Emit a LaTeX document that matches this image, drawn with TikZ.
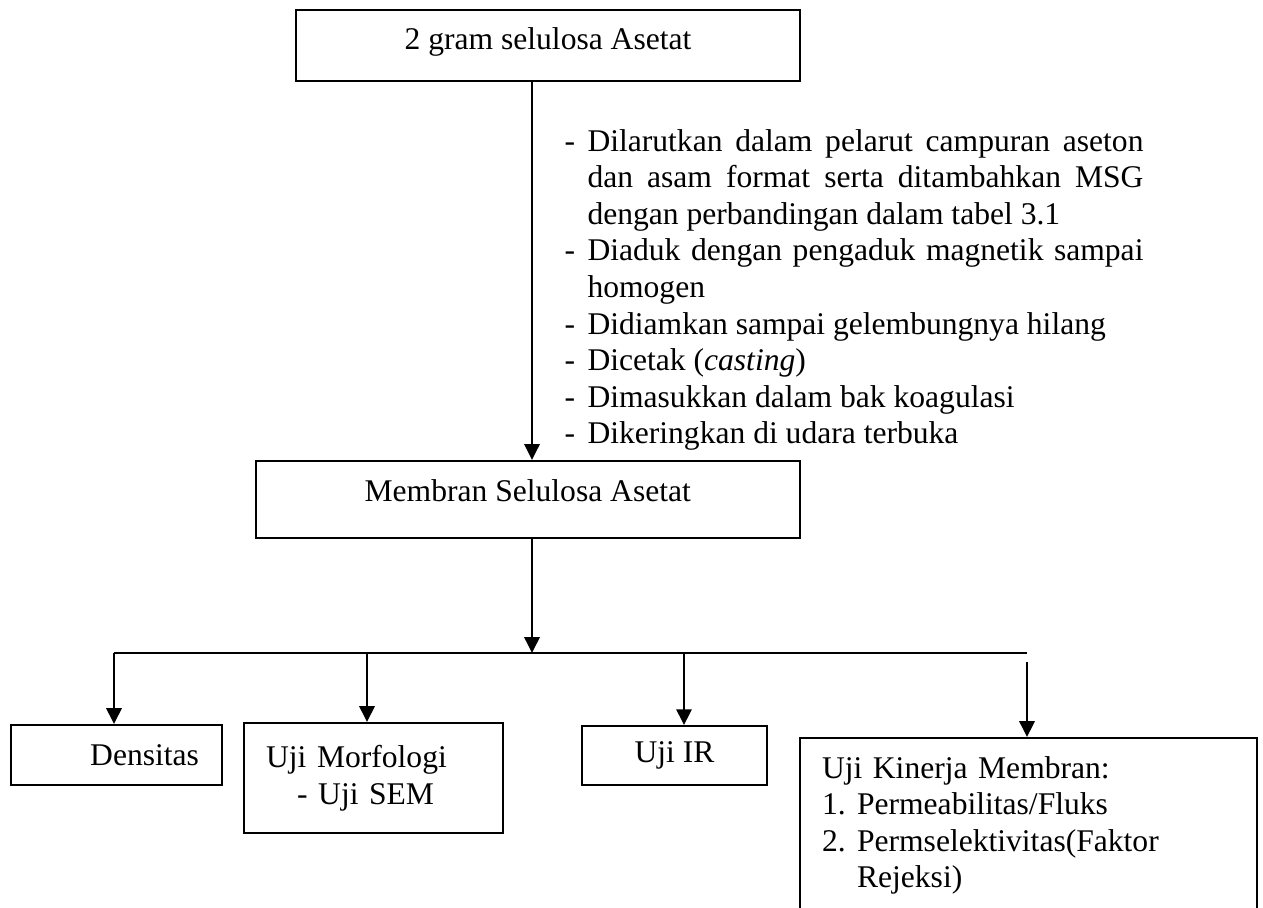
\documentclass[tikz,border=0pt]{standalone}
\usepackage{fontspec}
\setmainfont{Liberation Serif}
\usetikzlibrary{arrows.meta}

\newcommand{\butir}{\par\hangindent=8.74pt\hangafter=1\noindent\makebox[8.74pt][l]{-}}

\begin{document}
\begin{tikzpicture}[x=0.38pt, y=-0.38pt,
    font=\fontsize{12}{13.9}\selectfont,
    kotak/.style={draw, line width=0.75pt, inner xsep=7pt, inner ysep=0pt},
    panah/.style={-{Triangle[width=5.7pt,length=6pt]}, line width=1.1pt},
    garis/.style={line width=0.9pt}]

    \useasboundingbox (0,0) rectangle (1263,907);
    \clip (0,0) rectangle (1263,907);

    % bahan awal
    \node[kotak, minimum width=191.5pt, minimum height=27pt, text height=8.2pt, text depth=4.8pt] (awal) at (548,45.5) {2 gram selulosa Asetat};

    % langkah pembuatan membran
    \node[anchor=north west, inner sep=0pt, text width=220pt, align=justify] (langkah) at (564,114) {%
        \hyphenpenalty=10000 \exhyphenpenalty=10000 \tolerance=9999
        \butir Dilarutkan dalam pelarut campuran aseton dan asam format serta ditambahkan MSG dengan perbandingan dalam tabel 3.1
        \butir Diaduk dengan pengaduk magnetik sampai homogen
        \butir Didiamkan sampai gelembungnya hilang
        \butir Dicetak (\textit{casting})
        \butir Dimasukkan dalam bak koagulasi
        \butir Dikeringkan di udara terbuka\par};

    % membran hasil
    \node[kotak, minimum width=206.9pt, minimum height=29.3pt, text height=8.2pt, text depth=7pt] (membran) at (527.75,499.5) {Membran Selulosa Asetat};

    % titik percabangan
    \coordinate (tengah) at (532,0);
    \coordinate (t1) at (114,653);
    \coordinate (t2) at (367,653);
    \coordinate (t3) at (684,653);
    \coordinate (ujung) at (1027,653);
    \coordinate (t4) at (1027,662);

    % uji
    \node[kotak, inner xsep=8.74pt, minimum width=80.2pt, minimum height=22.8pt, text width=62.7pt, align=right] (densitas) at (116.5,755) {Densitas};
    \node[kotak, inner xsep=8.4pt, minimum width=98.4pt, minimum height=41.8pt, text width=81.6pt, align=left] (morfologi) at (373.5,778) {Uji Morfologi\\ \hspace*{11.8pt}- Uji SEM};
    \node[kotak, minimum width=70.3pt, minimum height=22.4pt] (ir) at (674.5,755.5) {Uji IR};
    \node[kotak, inner xsep=8.4pt, minimum width=173.7pt, minimum height=66.5pt, text width=156.9pt, align=left] (kinerja) at (1028.5,825.5) {Uji Kinerja Membran:\\ \makebox[13.3pt][l]{1.}Permeabilitas/Fluks\\ \makebox[13.3pt][l]{2.}Permselektivitas(Faktor\\ \hspace*{13.3pt}Rejeksi)};

    % panah
    \draw[panah] (awal.south -| tengah) -- (membran.north -| tengah);
    \draw[panah] (membran.south -| tengah) -- (tengah |- t1);
    \draw[garis] (t1) -- (ujung);
    \draw[panah] (t1) -- (densitas.north -| t1);
    \draw[panah] (t2) -- (morfologi.north -| t2);
    \draw[panah] (t3) -- (ir.north -| t3);
    \draw[panah] (t4) -- (kinerja.north -| t4);

\end{tikzpicture}
\end{document}
